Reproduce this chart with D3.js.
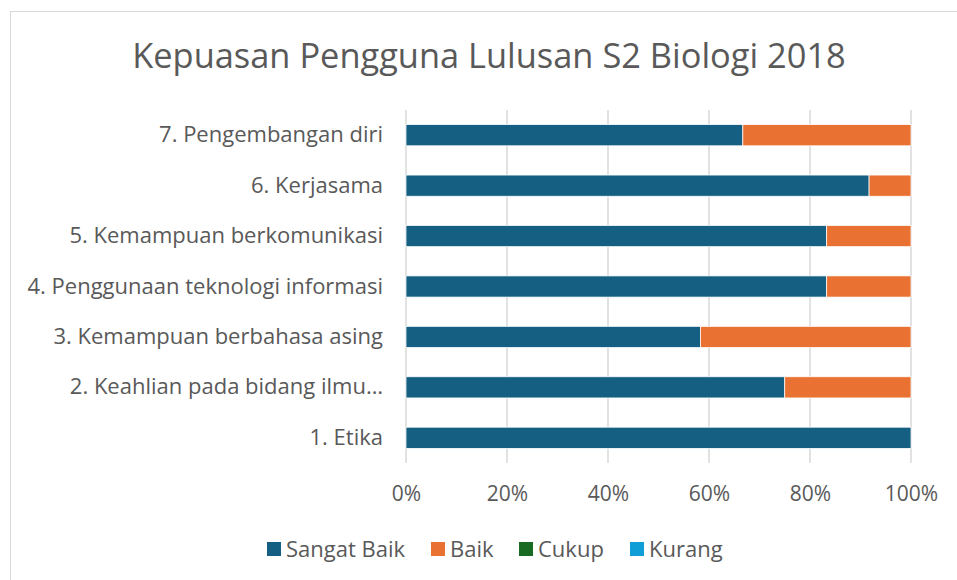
<!DOCTYPE html>
<html><head><meta charset="utf-8">
<script src="https://cdn.jsdelivr.net/npm/d3@7"></script>
<style>body{margin:0;background:#fff}svg{display:block}text{font-family:"Open Sans",sans-serif;fill:#595959}</style>
</head><body><svg id="c" width="957" height="580"></svg>
<script>
const title = "Kepuasan Pengguna Lulusan S2 Biologi 2018";
const categories = ["1. Etika","2. Keahlian pada bidang ilmu…","3. Kemampuan berbahasa asing","4. Penggunaan teknologi informasi","5. Kemampuan berkomunikasi","6. Kerjasama","7. Pengembangan diri"];
const seriesNames = ["Sangat Baik","Baik","Cukup","Kurang"];
const sangatBaik = [100, 75, 58.3, 83.3, 83.3, 91.7, 66.7];
const baik = [0, 25, 41.7, 16.7, 16.7, 8.3, 33.3];
const cukup = [0,0,0,0,0,0,0];
const kurang = [0,0,0,0,0,0,0];
const colors = ["#156082","#E97132","#196B24","#0F9ED5"];
const ticks = [0,0.2,0.4,0.6,0.8,1];

const svg = d3.select("#c");
svg.append("rect").attr("x",10.5).attr("y",11.5).attr("width",960).attr("height",600)
  .attr("fill","#fff").attr("stroke","#d9d9d9");
svg.append("text").attr("x",489).attr("y",68).attr("text-anchor","middle")
  .style("font-size","34.4px").text(title);

const x = d3.scaleLinear().domain([0,1]).range([406,911]);
const y = d3.scaleBand().domain(categories.slice().reverse()).range([110,463]).paddingInner(0.58).paddingOuter(0.29);

const g = svg.append("g");
g.selectAll("line.grid").data(ticks).join("line").attr("class","grid")
  .attr("x1",d=>x(d)).attr("x2",d=>x(d)).attr("y1",110).attr("y2",463)
  .attr("stroke","#d9d9d9").attr("stroke-width",1.5);

const rows = categories.map((c,i)=>({cat:c, "Sangat Baik":sangatBaik[i], "Baik":baik[i], "Cukup":cukup[i], "Kurang":kurang[i]}));
const stack = d3.stack().keys(seriesNames).offset(d3.stackOffsetExpand)(rows);
stack.forEach((s,k)=>{
  g.selectAll("rect.s"+k).data(s.filter(d=>d[1]-d[0]>0)).join("rect").attr("class","s"+k)
    .attr("x",d=>x(d[0])).attr("width",d=>x(d[1])-x(d[0]))
    .attr("y",d=>y(d.data.cat)).attr("height",y.bandwidth())
    .attr("fill",colors[k]).attr("stroke","#fff").attr("stroke-width",0.75);
});

const yAxis = d3.axisLeft(y).tickSize(0).tickPadding(23);
const ya = svg.append("g").attr("transform","translate(406,0)").call(yAxis);
ya.select(".domain").remove();
ya.selectAll("text").style("font-size","22px").style("fill","#595959").attr("font-family",null);

const xAxis = d3.axisBottom(x).tickValues(ticks).tickFormat(d3.format(".0%")).tickSize(0).tickPadding(0);
const xa = svg.append("g").attr("transform","translate(0,486)").call(xAxis);
xa.select(".domain").remove();
xa.selectAll("text").style("font-size","21px").style("fill","#595959").attr("font-family",null);

const legX = [267,431,519,630];
const leg = svg.append("g");
seriesNames.forEach((n,i)=>{
  leg.append("rect").attr("x",legX[i]).attr("y",542).attr("width",14).attr("height",14).attr("fill",colors[i]);
  leg.append("text").attr("x",legX[i]+19).attr("y",556.5).style("font-size","22px").text(n);
});
</script></body></html>
